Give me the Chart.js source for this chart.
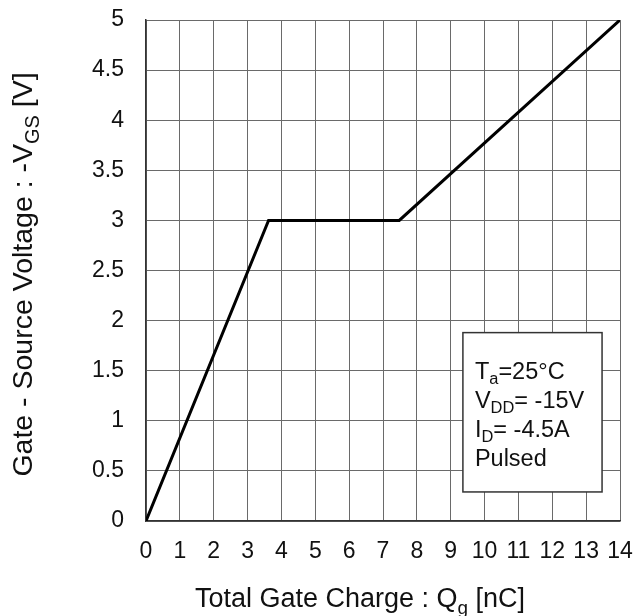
<!DOCTYPE html>
<html>
<head>
<meta charset="utf-8">
<script src="https://cdn.jsdelivr.net/npm/chart.js@4/dist/chart.umd.min.js"></script>
<style>
  html, body { margin: 0; padding: 0; background: #fff; }
  #wrap { width: 635px; height: 616px; }
</style>
</head>
<body>
<div id="wrap"><canvas id="qg"></canvas></div>
<script>
// gate charge curve
var qg = [0, 3.62, 7.48, 14];
var vgs = [0, 3.0, 3.0, 5.0];
var xTicks = [0, 1, 2, 3, 4, 5, 6, 7, 8, 9, 10, 11, 12, 13, 14];
var yTicks = [0, 0.5, 1, 1.5, 2, 2.5, 3, 3.5, 4, 4.5, 5];

// condition box: corners in data units, and its text lines
var boxX = [9.36, 13.47];
var boxY = [0.29, 1.88];
var boxLines = [
    [{t: 'T'}, {t: 'a', sub: true}, {t: '=25°C'}],
    [{t: 'V'}, {t: 'DD', sub: true}, {t: '= -15V'}],
    [{t: 'I'}, {t: 'D', sub: true}, {t: '= -4.5A'}],
    [{t: 'Pulsed'}]
];
var xTitle = [{t: 'Total Gate Charge : Q'}, {t: 'g', sub: true}, {t: ' [nC]'}];
var yTitle = [{t: 'Gate - Source Voltage : -V'}, {t: 'GS', sub: true}, {t: ' [V]'}];

var FONT = '"Liberation Sans", Arial, sans-serif';

function segWidth(ctx, segs, size) {
    var w = 0;
    segs.forEach(function(s) {
        ctx.font = (s.sub ? size * 0.7 : size) + 'px ' + FONT;
        w += ctx.measureText(s.t).width;
    });
    return w;
}
function drawSegs(ctx, segs, x, y, size) {
    ctx.textBaseline = 'alphabetic';
    ctx.textAlign = 'left';
    segs.forEach(function(s) {
        var fs = s.sub ? size * 0.7 : size;
        ctx.font = fs + 'px ' + FONT;
        ctx.fillText(s.t, x, s.sub ? y + size * 0.25 : y);
        x += ctx.measureText(s.t).width;
    });
}

var extras = {
    id: 'extras',
    afterDraw: function(chart) {
        var ctx = chart.ctx, xs = chart.scales.x, ys = chart.scales.y, a = chart.chartArea;
        ctx.save();
        // condition box
        var l = xs.getPixelForValue(boxX[0]), r = xs.getPixelForValue(boxX[1]);
        var t = ys.getPixelForValue(boxY[1]), b = ys.getPixelForValue(boxY[0]);
        ctx.fillStyle = '#fff';
        ctx.fillRect(l, t, r - l, b - t);
        ctx.strokeStyle = '#333';
        ctx.lineWidth = 1.5;
        ctx.strokeRect(l, t, r - l, b - t);
        ctx.fillStyle = '#111';
        boxLines.forEach(function(line, i) {
            drawSegs(ctx, line, l + 12, t + 46 + i * 29, 23.5);
        });
        // axis titles
        var w = segWidth(ctx, xTitle, 27);
        drawSegs(ctx, xTitle, (a.left + a.right) / 2 - 23 - w / 2, 607, 27);
        ctx.translate(32, (a.top + a.bottom) / 2 + 4);
        ctx.rotate(-Math.PI / 2);
        w = segWidth(ctx, yTitle, 28.5);
        drawSegs(ctx, yTitle, -w / 2, 0, 28.5);
        ctx.restore();
    }
};

function noOverflow(s) {
    s.paddingTop = 0; s.paddingBottom = 0; s.paddingLeft = 0; s.paddingRight = 0;
}

new Chart(document.getElementById('qg'), {
    type: 'scatter',
    data: {
        datasets: [{
            data: qg.map(function(x, i) { return {x: x, y: vgs[i]}; }),
            showLine: true,
            borderColor: '#000',
            borderWidth: 3,
            pointRadius: 0,
            tension: 0,
            fill: false
        }]
    },
    options: {
        responsive: true,
        maintainAspectRatio: false,
        animation: false,
        events: [],
        layout: { padding: { top: 20, right: 15, left: 0, bottom: 0 } },
        plugins: { legend: { display: false }, tooltip: { enabled: false } },
        scales: {
            x: {
                type: 'linear', min: 0, max: 14,
                afterBuildTicks: function(s) { s.ticks = xTicks.map(function(v) { return {value: v}; }); },
                afterFit: function(s) { s.height = 95; noOverflow(s); },
                grid: { color: '#6a6a6a', lineWidth: 1, drawTicks: false },
                border: { color: '#333', width: 1.5 },
                ticks: { padding: 17, color: '#111', font: { family: FONT, size: 23 }, maxRotation: 0, autoSkip: false }
            },
            y: {
                type: 'linear', min: 0, max: 5,
                afterBuildTicks: function(s) { s.ticks = yTicks.map(function(v) { return {value: v}; }); },
                afterFit: function(s) { s.width = 146; noOverflow(s); },
                grid: { color: '#6a6a6a', lineWidth: 1, drawTicks: false },
                border: { color: '#333', width: 1.5 },
                ticks: {
                    padding: 22, color: '#111', font: { family: FONT, size: 23 }, autoSkip: false,
                    callback: function(v) { return String(v); }
                }
            }
        }
    },
    plugins: [extras]
});
</script>
</body>
</html>
